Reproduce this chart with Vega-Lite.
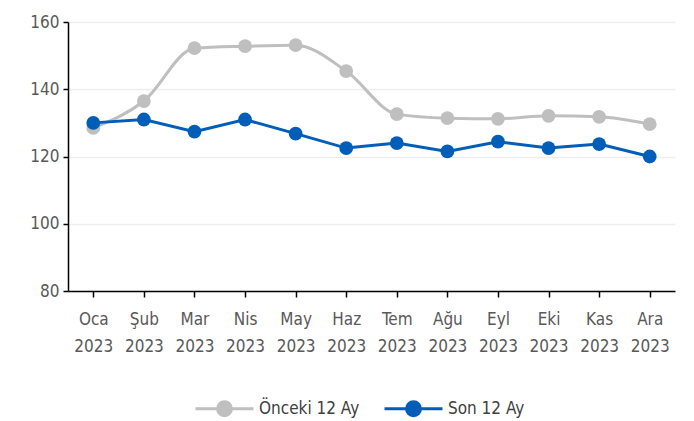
{
  "$schema": "https://vega.github.io/schema/vega-lite/v6.json",
  "width": 607,
  "height": 269,
  "autosize": {"type": "none"},
  "padding": {"left": 68, "top": 22, "right": 19, "bottom": 130},
  "background": "white",
  "config": {
    "view": {"stroke": null},
    "font": "DejaVu Sans Condensed, sans-serif",
    "axis": {"labelFont": "DejaVu Sans Condensed, sans-serif", "labelFontSize": 17, "labelColor": "#595959"}
  },
  "data": {
    "values": [
      {"month": "Oca 2023", "series": "Önceki 12 Ay", "value": 128.5},
      {"month": "Şub 2023", "series": "Önceki 12 Ay", "value": 136.5},
      {"month": "Mar 2023", "series": "Önceki 12 Ay", "value": 152.2},
      {"month": "Nis 2023", "series": "Önceki 12 Ay", "value": 152.8},
      {"month": "May 2023", "series": "Önceki 12 Ay", "value": 153.1},
      {"month": "Haz 2023", "series": "Önceki 12 Ay", "value": 145.4},
      {"month": "Tem 2023", "series": "Önceki 12 Ay", "value": 132.6},
      {"month": "Ağu 2023", "series": "Önceki 12 Ay", "value": 131.4},
      {"month": "Eyl 2023", "series": "Önceki 12 Ay", "value": 131.2},
      {"month": "Eki 2023", "series": "Önceki 12 Ay", "value": 132.1},
      {"month": "Kas 2023", "series": "Önceki 12 Ay", "value": 131.8},
      {"month": "Ara 2023", "series": "Önceki 12 Ay", "value": 129.6},
      {"month": "Oca 2023", "series": "Son 12 Ay", "value": 130.0},
      {"month": "Şub 2023", "series": "Son 12 Ay", "value": 131.0},
      {"month": "Mar 2023", "series": "Son 12 Ay", "value": 127.4},
      {"month": "Nis 2023", "series": "Son 12 Ay", "value": 131.0},
      {"month": "May 2023", "series": "Son 12 Ay", "value": 126.8},
      {"month": "Haz 2023", "series": "Son 12 Ay", "value": 122.5},
      {"month": "Tem 2023", "series": "Son 12 Ay", "value": 124.0},
      {"month": "Ağu 2023", "series": "Son 12 Ay", "value": 121.5},
      {"month": "Eyl 2023", "series": "Son 12 Ay", "value": 124.4},
      {"month": "Eki 2023", "series": "Son 12 Ay", "value": 122.5},
      {"month": "Kas 2023", "series": "Son 12 Ay", "value": 123.7},
      {"month": "Ara 2023", "series": "Son 12 Ay", "value": 120.0}
    ]
  },
  "encoding": {
    "x": {
      "field": "month", "type": "ordinal", "sort": null,
      "scale": {"type": "point", "padding": 0.5},
      "axis": {
        "title": null, "labelAngle": 0, "domainColor": "#000000", "domainWidth": 1.5,
        "tickColor": "#000000", "tickWidth": 1.5, "tickSize": 6, "labelPadding": 14,
        "labelExpr": "split(datum.label, ' ')", "labelLineHeight": 27, "grid": false
      }
    },
    "y": {
      "field": "value", "type": "quantitative",
      "scale": {"domain": [80, 160], "nice": false, "zero": false},
      "axis": {
        "title": null, "values": [80, 100, 120, 140, 160], "domainColor": "#000000", "domainWidth": 1.5,
        "tickColor": "#000000", "tickWidth": 1.5, "tickSize": 5, "labelPadding": 4,
        "grid": true, "gridColor": "#EDEDED", "gridWidth": 1.5
      }
    },
    "color": {
      "field": "series", "type": "nominal",
      "scale": {"domain": ["Önceki 12 Ay", "Son 12 Ay"], "range": ["#BFBFBF", "#005EB8"]},
      "legend": {
        "title": null, "orient": "none", "direction": "horizontal",
        "legendX": 126, "legendY": 356,
        "symbolType": "M-1,0L-0.24,0M0.24,0L1,0M-0.24,0A0.24,0.24 0 1,0 0.24,0A0.24,0.24 0 1,0 -0.24,0Z",
        "symbolSize": 3364, "symbolStrokeWidth": 3,
        "labelFont": "DejaVu Sans Condensed, sans-serif",
        "labelFontSize": 17, "labelColor": "#404040", "labelOffset": 4, "columnPadding": 18,
        "encode": {"symbols": {"update": {"fill": {"scale": "color", "field": "value"}, "opacity": {"value": 1}}}}
      }
    }
  },
  "layer": [
    {
      "transform": [{"filter": "datum.series == 'Önceki 12 Ay'"}],
      "mark": {"type": "line", "interpolate": "monotone", "strokeWidth": 3}
    },
    {
      "transform": [{"filter": "datum.series == 'Önceki 12 Ay'"}],
      "mark": {"type": "circle", "size": 190, "opacity": 1}
    },
    {
      "transform": [{"filter": "datum.series == 'Son 12 Ay'"}],
      "mark": {"type": "line", "strokeWidth": 3}
    },
    {
      "transform": [{"filter": "datum.series == 'Son 12 Ay'"}],
      "mark": {"type": "circle", "size": 190, "opacity": 1}
    }
  ]
}
